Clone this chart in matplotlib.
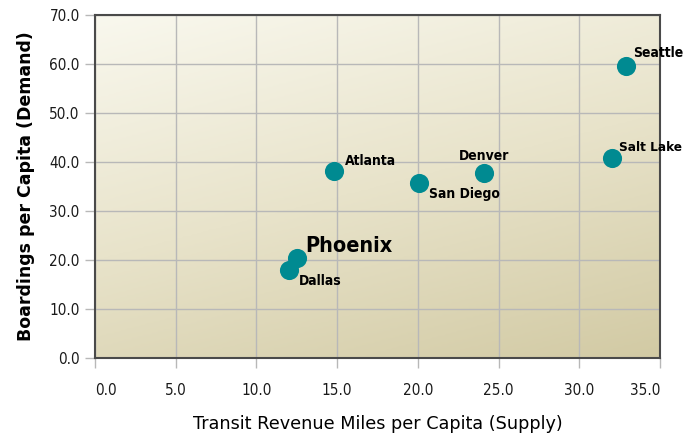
import numpy as np
import matplotlib.pyplot as plt
from matplotlib.colors import LinearSegmentedColormap

# data
cities = ['Seattle', 'Salt Lake', 'Denver', 'San Diego', 'Atlanta', 'Phoenix', 'Dallas']
supply = [32.9, 32.0, 24.1, 20.1, 14.8, 12.5, 12.0]
demand = [59.5, 40.8, 37.8, 35.7, 38.2, 20.5, 17.9]
xticks = [0, 5, 10, 15, 20, 25, 30, 35]
yticks = [0, 10, 20, 30, 40, 50, 60, 70]

# label offsets in points (dx, dy, ha, va, size)
label_style = {
    'Seattle':   (5, 5, 'left', 'bottom', 10),
    'Salt Lake': (5, 3, 'left', 'bottom', 9.7),
    'Denver':    (0, 7, 'center', 'bottom', 10),
    'San Diego': (7, -3, 'left', 'top', 10),
    'Atlanta':   (8, 2, 'left', 'bottom', 10),
    'Phoenix':   (6, 1, 'left', 'bottom', 15.5),
    'Dallas':    (7, -3, 'left', 'top', 10),
}

fig = plt.figure(figsize=(6.83, 4.34), dpi=100)
ax = fig.add_axes([95 / 683, 1 - 358 / 434, 565 / 683, 343 / 434])

# diagonal gradient background
cmap = LinearSegmentedColormap.from_list('bg', ['#f9f8ee', '#e8e3ca', '#d2caa4'])
gx, gy = np.meshgrid(np.linspace(0, 1, 200), np.linspace(0, 1, 200))
grad = 0.3 * gx + 0.7 * gy
ax.imshow(grad, cmap=cmap, extent=[0, 1, 0, 1], transform=ax.transAxes,
          aspect='auto', zorder=0, interpolation='bilinear', origin='upper')

ax.set_xlim(0, 35)
ax.set_ylim(0, 70)
ax.set_xticks(xticks)
ax.set_yticks(yticks)
ax.set_xticklabels([f'{v:.1f}' for v in xticks])
ax.set_yticklabels([f'{v:.1f}' for v in yticks])
ax.grid(True, color='#b8b8b8', linewidth=1.0, zorder=1)
ax.set_axisbelow(True)
ax.tick_params(axis='both', direction='out', length=7, width=1.0, color='#b8b8b8',
               labelsize=11, labelcolor='#1a1a1a')
ax.tick_params(axis='x', pad=11)
ax.tick_params(axis='y', pad=4)
for s in ax.spines.values():
    s.set_color('#4a4a4a')
    s.set_linewidth(1.5)

labs = ax.get_xticklabels()
labs[0].set_horizontalalignment('left')
labs[-1].set_horizontalalignment('right')
for t in ax.get_xticklabels() + ax.get_yticklabels():
    t.set_fontstretch('condensed')

ax.scatter(supply, demand, s=190, color='#008a91', zorder=3, linewidths=0)

for name, x, y in zip(cities, supply, demand):
    dx, dy, ha, va, fs = label_style[name]
    ax.annotate(name, (x, y), xytext=(dx, dy), textcoords='offset points',
                ha=ha, va=va, fontsize=fs, fontweight='bold', fontstretch='condensed',
                family='DejaVu Sans', zorder=4, annotation_clip=False)

ax.set_xlabel('Transit Revenue Miles per Capita (Supply)', fontsize=12.7, labelpad=12)
ax.set_ylabel('Boardings per Capita (Demand)', fontsize=12.5, fontweight='bold', labelpad=10)

fig.savefig('out.png', dpi=100)
